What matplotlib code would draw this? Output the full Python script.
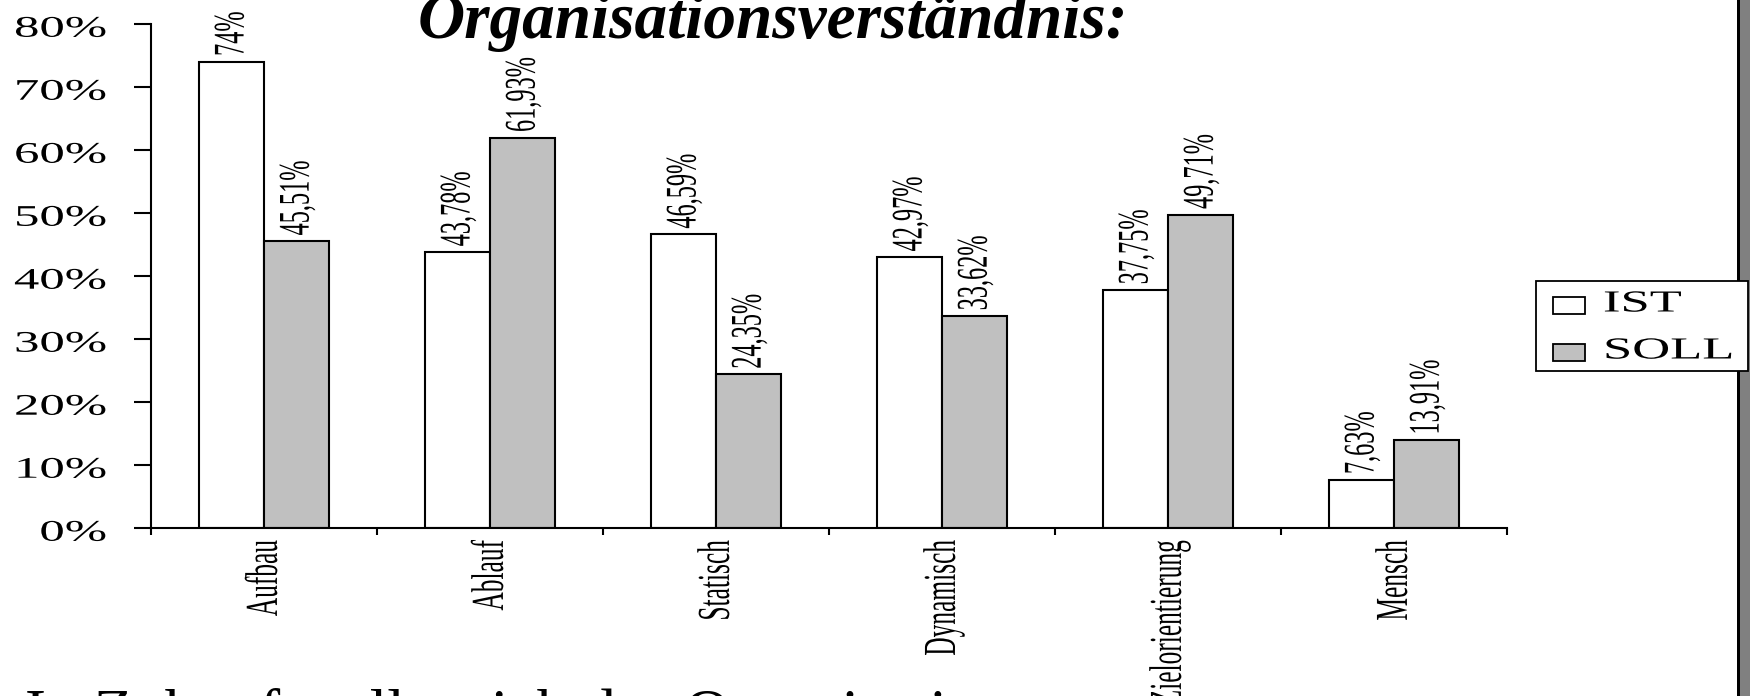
import matplotlib
matplotlib.use("Agg")
import matplotlib.pyplot as plt
import numpy as np
from matplotlib import patheffects
from matplotlib.patches import Rectangle
from matplotlib.transforms import Affine2D, ScaledTranslation

# --- data -------------------------------------------------------------------
categories = ["Aufbau", "Ablauf", "Statisch", "Dynamisch", "Zielorientierung", "Mensch"]
ist_values = [74, 43.78, 46.59, 42.97, 37.75, 7.63]
soll_values = [45.51, 61.93, 24.35, 33.62, 49.71, 13.91]
series_names = ["IST", "SOLL"]
series_colors = ["#FFFFFF", "#C0C0C0"]
y_ticks = [0, 10, 20, 30, 40, 50, 60, 70, 80]
title_text = "Organisationsverständnis:"
footer_text = "In Zukunft sollte sich das Organisations-"


def pct_label(v):
    return f"{v:g}".replace(".", ",") + "%"


class Stretch(patheffects.AbstractPathEffect):
    """Scale glyph outlines in text-local units: sx along the baseline, sy across it."""

    def __init__(self, sx=1.0, sy=1.0, anchor="center"):
        super().__init__()
        self.sx, self.sy, self.anchor = sx, sy, anchor

    def draw_path(self, renderer, gc, tpath, affine, rgbFace=None):
        v = tpath.vertices
        if len(v):
            x0, x1 = v[:, 0].min(), v[:, 0].max()
        else:
            x0 = x1 = 0.0
        xc = {"left": 0.0, "center": 0.5 * (x0 + x1), "right": x1}[self.anchor]
        yc = 34.0  # middle of the digit/cap height (em = 100 path units)
        pre = (Affine2D().translate(-xc, -yc)
               .scale(self.sx, self.sy)
               .translate(xc, yc))
        renderer.draw_path(gc, tpath, pre + affine, rgbFace)


plt.rcParams["font.family"] = ["Liberation Serif", "DejaVu Serif"]

W, H = 1750, 696
fig = plt.figure(figsize=(W / 100, H / 100), dpi=100)
fig.patch.set_facecolor("white")

ax_left, ax_right = 151 / W, 1507 / W
ax_bottom, ax_top = (H - 527.7) / H, (H - 23.7) / H
ax = fig.add_axes([ax_left, ax_bottom, ax_right - ax_left, ax_top - ax_bottom])
ax.set_facecolor("none")

x = np.arange(len(categories))
bw = 0.288
lw = 1.5
bars_ist = ax.bar(x - bw / 2, ist_values, bw, color=series_colors[0],
                  edgecolor="black", linewidth=lw, zorder=2)
bars_soll = ax.bar(x + bw / 2, soll_values, bw, color=series_colors[1],
                   edgecolor="black", linewidth=lw, zorder=2)

# value labels above each bar
for xs, vals in ((x - bw / 2, ist_values), (x + bw / 2, soll_values)):
    for xi, v in zip(xs, vals):
        ax.annotate(pct_label(v), (xi, v), xytext=(0, 4), textcoords="offset points",
                    rotation=90, ha="center", va="bottom", fontsize=17.5,
                    path_effects=[Stretch(sy=1.8)], annotation_clip=False, zorder=3)

ax.set_xlim(-0.5, len(categories) - 0.5)
ax.set_ylim(0, 80)

for side in ("top", "right"):
    ax.spines[side].set_visible(False)
for side in ("left", "bottom"):
    ax.spines[side].set_linewidth(lw)
    ax.spines[side].set_color("black")

# x axis: separator ticks between groups, category names centred
ax.set_xticks(np.arange(len(categories) + 1) - 0.5)
ax.set_xticklabels([])
ax.set_xticks(x, minor=True)
ax.set_xticklabels(categories, minor=True, rotation=90, fontsize=18.3,
                   ha="center", va="top")
ax.tick_params(axis="x", which="major", direction="out", length=5, width=lw,
               color="black")
ax.tick_params(axis="x", which="minor", length=0, pad=9)
for t in ax.get_xticklabels(minor=True):
    t.set_path_effects([Stretch(sy=1.8)])

# y axis: percentages
ax.set_yticks(y_ticks)
ax.set_yticklabels([f"{v}%" for v in y_ticks], fontsize=21.5)
ax.tick_params(axis="y", direction="out", length=12.2, width=lw, color="black",
               pad=20)
shift = ScaledTranslation(0, -3 / 100, fig.dpi_scale_trans)
for t in ax.get_yticklabels():
    t.set_path_effects([Stretch(sx=1.7, anchor="right")])
    t.set_transform(t.get_transform() + shift)

# slide title and the following line of body text
fig.text(418 / W, 1 - 38 / H, title_text, fontsize=47, fontweight="bold",
         fontstyle="italic", ha="left", va="baseline", zorder=5)
fig.text(25 / W, (H - 733) / H, footer_text, fontsize=45.5, ha="left",
         va="baseline", zorder=5)

# grey slide border on the right
fig.patches.append(Rectangle((1737 / W, 0), 13 / W, 1, transform=fig.transFigure,
                             facecolor="#808080", edgecolor="none", zorder=1))
fig.patches.append(Rectangle((1737 / W, 0), 2.5 / W, 1, transform=fig.transFigure,
                             facecolor="black", edgecolor="none", zorder=1))

# legend box
lg_x0, lg_x1, lg_top, lg_bot = 1536, 1748, 281, 371
fig.patches.append(Rectangle((lg_x0 / W, (H - lg_bot) / H), (lg_x1 - lg_x0) / W,
                             (lg_bot - lg_top) / H, transform=fig.transFigure,
                             facecolor="white", edgecolor="black", linewidth=1.3,
                             zorder=6))
for name, col, yc in zip(series_names, series_colors, (305, 352)):
    fig.patches.append(Rectangle((1553 / W, (H - yc - 8.5) / H), 32 / W, 17 / H,
                                 transform=fig.transFigure, facecolor=col,
                                 edgecolor="black", linewidth=1.3, zorder=7))
    fig.text(1603 / W, (H - yc + 1) / H, name, fontsize=22, ha="left", va="center",
             path_effects=[Stretch(sx=1.72, anchor="left")], zorder=7)

fig.savefig("out.png", dpi=100)
